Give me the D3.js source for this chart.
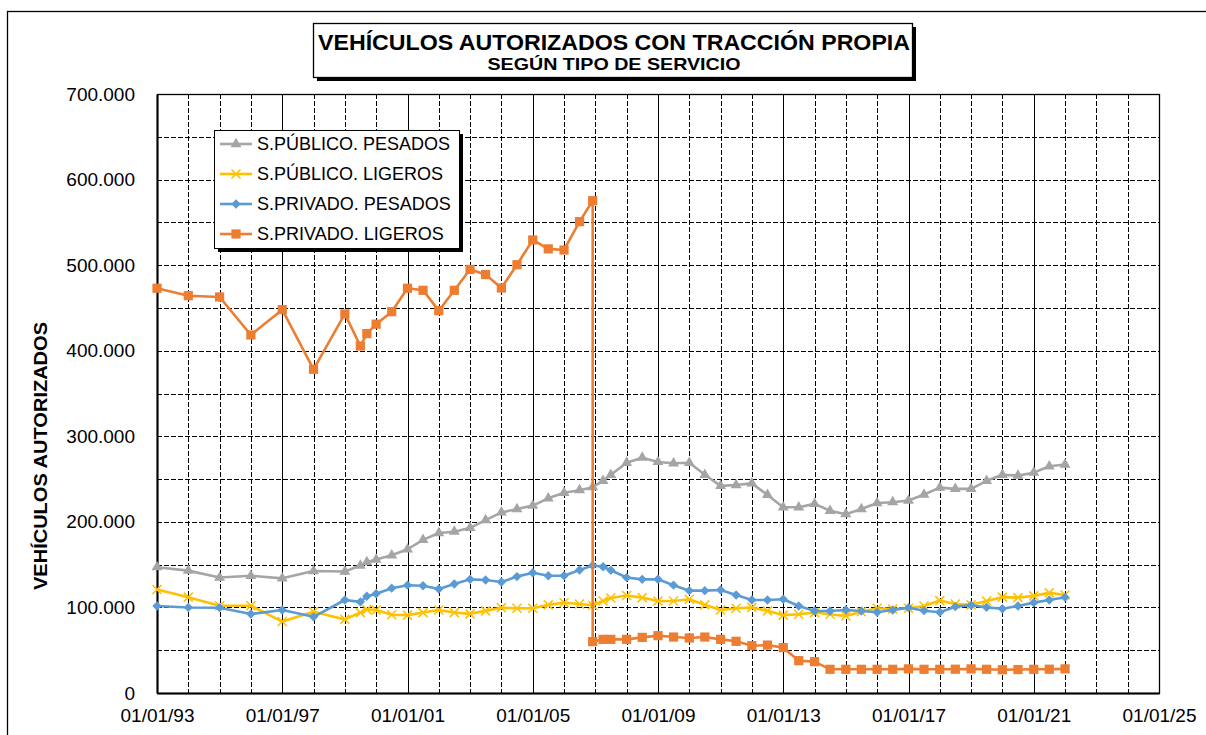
<!DOCTYPE html>
<html>
<head>
<meta charset="utf-8">
<script src="https://cdn.jsdelivr.net/npm/d3@7"></script>
<style>
  body { margin: 0; background: #fff; }
  svg { display: block; font-family: "Liberation Sans", Arial, sans-serif; }
</style>
</head>
<body>
<div id="wrapper"></div>
<script>
// fechas de cada observacion (anuales hasta 1999, luego semestrales)
const dates = [
  "1993-01-01", "1994-01-01", "1995-01-01", "1996-01-01", "1997-01-01", "1998-01-01", "1999-01-01",
  "1999-07-01", "1999-09-15",
  "2000-01-01", "2000-07-01", "2001-01-01", "2001-07-01", "2002-01-01", "2002-07-01", "2003-01-01",
  "2003-07-01", "2004-01-01", "2004-07-01", "2005-01-01", "2005-07-01", "2006-01-01", "2006-07-01",
  "2006-12-01", "2007-04-01", "2007-07-01",
  "2008-01-01", "2008-07-01", "2009-01-01", "2009-07-01", "2010-01-01", "2010-07-01", "2011-01-01",
  "2011-07-01", "2012-01-01", "2012-07-01", "2013-01-01", "2013-07-01", "2014-01-01", "2014-07-01",
  "2015-01-01", "2015-07-01", "2016-01-01", "2016-07-01", "2017-01-01", "2017-07-01", "2018-01-01",
  "2018-07-01", "2019-01-01", "2019-07-01", "2020-01-01", "2020-07-01", "2021-01-01", "2021-07-01",
  "2022-01-01"
]

// valores en miles de vehiculos
const publicoPesados = [
  147, 143, 135, 137, 134, 142.6, 142,
  149, 153,
  156, 161, 168, 179, 187, 188.5, 193, 202, 211, 215, 219, 227.5, 234, 237,
  240.5, 248, 255,
  269, 275, 270, 268.5, 269, 255, 242, 243, 245, 231.5, 217, 217, 221, 213, 209,
  215, 222, 223, 225, 232, 240, 238.5, 238.5, 248, 255, 254, 257.5, 265, 267
]
const publicoLigeros = [
  121, 112, 102, 102, 83.5, 95, 86,
  94, 97.5,
  97, 91.5, 91, 94, 97, 94, 92.5, 96, 99.7, 99, 99, 103, 105.5, 104,
  102.5, 107.5, 111,
  114, 111.5, 107.5, 107.5, 109.5, 103, 97, 99, 100, 96, 91, 92, 94, 92, 90,
  95, 99, 98, 99, 101.7, 108, 104, 103, 107.5, 112, 111.5, 113.5, 117, 114.5
]
const privadoPesados = [
  101.7, 100, 99.7, 92.3, 97, 89, 108.7,
  106.5, 113,
  116, 122.5, 126, 125.4, 121.5, 127.4, 132.8, 132, 129.7, 136, 140.6, 137, 137, 143.7,
  149, 147.5, 143.5,
  135, 132.8, 133, 126, 119.6, 119.6, 120.4, 114.5, 108.7, 108.7, 109.5, 101.7, 95.8, 95.8, 97,
  95.8, 94.3, 97, 99.7, 96.2, 94.3, 100.9, 102.5, 100.1, 98.5, 101.7, 105.6, 108.7, 111.8
]
const privadoLigeros = [
  473, 464.3, 462.8, 418.4, 448, 378.3, 443,
  405.5, 420,
  431, 445.6, 473, 470.6, 446.8, 470.6, 495, 489, 473.3, 500.5, 529.4, 519, 517.7, 550.8,
  575.3, 62.7, 62.7,
  62.7, 65, 67, 65.4, 64.3, 65.4, 62.7, 60.4, 55.3, 56, 53, 37.8, 36.6, 27.7, 27.7,
  27.7, 27.7, 27.7, 28.2, 27.7, 27.7, 27.8, 28.2, 27.7, 27.2, 27.4, 27.7, 27.8, 28.2
]
// cambio de criterio: el mismo dia la serie cae a este valor
const privadoLigerosCorte = { date: "2006-12-01", value: 60 }

const seriesNames = ["S.PÚBLICO. PESADOS", "S.PÚBLICO. LIGEROS", "S.PRIVADO. PESADOS", "S.PRIVADO. LIGEROS"]
const seriesColors = ["#A5A5A5", "#FFC000", "#5B9BD5", "#ED7D31"]
const yTicks = [0, 100000, 200000, 300000, 400000, 500000, 600000, 700000]
const xTickYears = [1993, 1997, 2001, 2005, 2009, 2013, 2017, 2021, 2025]
const titleLines = ["VEHÍCULOS AUTORIZADOS CON TRACCIÓN PROPIA", "SEGÚN TIPO DE SERVICIO"]
const yTitle = "VEHÍCULOS  AUTORIZADOS"

function drawChart() {
  const parse = d3.timeParse("%Y-%m-%d")

  let dimensions = {
    width: 1206,
    height: 735,
    plot: { left: 157, right: 1159, top: 94, bottom: 693 }
  }

  const svg = d3.select("#wrapper")
    .append("svg")
    .attr("width", dimensions.width)
    .attr("height", dimensions.height)

  svg.append("rect")
    .attr("width", dimensions.width)
    .attr("height", dimensions.height)
    .attr("fill", "#fff")

  // marco exterior del grafico (se sale de la captura)
  svg.append("rect")
    .attr("x", 7.5).attr("y", 11.5)
    .attr("width", 1240).attr("height", 780)
    .attr("fill", "none")
    .attr("stroke", "#000")
    .attr("stroke-width", 1.3)

  //! escalas
  const xScale = d3.scaleTime()
    .domain([new Date(1993, 0, 1), new Date(2025, 0, 1)])
    .range([dimensions.plot.left, dimensions.plot.right])
  const yScale = d3.scaleLinear()
    .domain([0, 700000])
    .range([dimensions.plot.bottom, dimensions.plot.top])

  const locale = d3.formatLocale({ decimal: ",", thousands: ".", grouping: [3], currency: ["", " €"] })
  const fmtY = locale.format(",")

  //! rejilla
  const grid = svg.append("g")
  grid.selectAll(".hgrid")
    .data(d3.range(50000, 700000, 50000))
    .join("line")
    .attr("x1", dimensions.plot.left).attr("x2", dimensions.plot.right)
    .attr("y1", d => Math.round(yScale(d)) + 0.5)
    .attr("y2", d => Math.round(yScale(d)) + 0.5)
    .attr("stroke", "#000")
    .attr("stroke-dasharray", "5,2")

  const years = d3.timeYear.range(new Date(1994, 0, 1), new Date(2025, 0, 1))
  grid.selectAll(".vgrid")
    .data(years)
    .join("line")
    .attr("x1", d => Math.round(xScale(d)) + 0.5)
    .attr("x2", d => Math.round(xScale(d)) + 0.5)
    .attr("y1", dimensions.plot.top).attr("y2", dimensions.plot.bottom)
    .attr("stroke", "#000")
    .attr("stroke-dasharray", d => (d.getFullYear() - 1993) % 4 === 0 ? null : "5,2")

  svg.append("rect")
    .attr("x", dimensions.plot.left + 0.5).attr("y", dimensions.plot.top + 0.5)
    .attr("width", dimensions.plot.right - dimensions.plot.left)
    .attr("height", dimensions.plot.bottom - dimensions.plot.top)
    .attr("fill", "none")
    .attr("stroke", "#000")
    .attr("stroke-width", 1.3)

  //! ejes
  const xAxis = d3.axisBottom(xScale)
    .tickValues(xTickYears.map(y => new Date(y, 0, 1)))
    .tickFormat(d3.timeFormat("%d/%m/%y"))
    .tickSize(0)
    .tickPadding(16)
  const xG = svg.append("g")
    .attr("transform", `translate(0, ${dimensions.plot.bottom})`)
    .call(xAxis)
  xG.select(".domain").attr("stroke", "#000").attr("stroke-width", 2)
  xG.selectAll("text").attr("font-size", 19).attr("fill", "#000")
    .attr("font-family", "Liberation Sans, Arial, sans-serif")

  const yAxis = d3.axisLeft(yScale)
    .tickValues(yTicks)
    .tickFormat(fmtY)
    .tickSize(0)
    .tickPadding(22)
  const yG = svg.append("g")
    .attr("transform", `translate(${dimensions.plot.left}, 0)`)
    .call(yAxis)
  yG.select(".domain").attr("stroke", "#000").attr("stroke-width", 2)
  yG.selectAll("text").attr("font-size", 19).attr("fill", "#000")
    .attr("font-family", "Liberation Sans, Arial, sans-serif")

  svg.append("text")
    .attr("transform", "translate(47, 456) rotate(-90)")
    .attr("text-anchor", "middle")
    .attr("font-size", 18)
    .attr("font-weight", "bold")
    .attr("textLength", 268)
    .attr("lengthAdjust", "spacingAndGlyphs")
    .text(yTitle)

  //! series
  const toPoints = vals => vals.map((v, i) => ({ date: parse(dates[i]), value: v * 1000 }))
  const seriesData = [
    toPoints(publicoPesados),
    toPoints(publicoLigeros),
    toPoints(privadoPesados),
    toPoints(privadoLigeros)
  ]
  // insertar la caida de la serie privada ligeros
  const cut = dates.indexOf(privadoLigerosCorte.date)
  seriesData[3].splice(cut + 1, 0, { date: parse(privadoLigerosCorte.date), value: privadoLigerosCorte.value * 1000 })

  const line = d3.line()
    .x(d => xScale(d.date))
    .y(d => yScale(d.value))

  const triangle = d3.symbol().type(d3.symbolTriangle).size(52)()
  const square = d3.symbol().type(d3.symbolSquare).size(85)()
  const diamond = d3.symbol().type(d3.symbolSquare).size(44)()
  const markerFor = [
    g => g.append("path").attr("d", triangle).attr("fill", seriesColors[0]),
    g => g.append("path").attr("d", "M-4.5,-4.5L4.5,4.5M-4.5,4.5L4.5,-4.5").attr("stroke", seriesColors[1]).attr("stroke-width", 1.6).attr("fill", "none"),
    g => g.append("path").attr("d", diamond).attr("transform", "rotate(45)").attr("fill", seriesColors[2]),
    g => g.append("path").attr("d", square).attr("fill", seriesColors[3])
  ]

  const seriesG = svg.append("g")
  seriesData.forEach((pts, k) => {
    const g = seriesG.append("g")
    g.append("path")
      .datum(pts)
      .attr("d", line)
      .attr("fill", "none")
      .attr("stroke", seriesColors[k])
      .attr("stroke-width", 2.6)
      .attr("stroke-linejoin", "round")
    g.selectAll(".mk")
      .data(pts)
      .join("g")
      .attr("transform", d => `translate(${xScale(d.date)}, ${yScale(d.value)})`)
      .each(function () { markerFor[k](d3.select(this)) })
  })

  //! titulo
  const tb = { x: 313, y: 23, w: 599, h: 54 }
  svg.append("rect")
    .attr("x", tb.x + 4).attr("y", tb.y + 4).attr("width", tb.w).attr("height", tb.h)
    .attr("fill", "#000")
  svg.append("rect")
    .attr("x", tb.x + 0.5).attr("y", tb.y + 0.5).attr("width", tb.w).attr("height", tb.h)
    .attr("fill", "#fff").attr("stroke", "#000").attr("stroke-width", 1.3)
  svg.append("text")
    .attr("x", 614).attr("y", 50)
    .attr("text-anchor", "middle")
    .attr("font-size", 22).attr("font-weight", "bold")
    .attr("textLength", 592).attr("lengthAdjust", "spacingAndGlyphs")
    .text(titleLines[0])
  svg.append("text")
    .attr("x", 614).attr("y", 70)
    .attr("text-anchor", "middle")
    .attr("font-size", 17).attr("font-weight", "bold")
    .attr("textLength", 253).attr("lengthAdjust", "spacingAndGlyphs")
    .text(titleLines[1])

  //! leyenda
  const lb = { x: 214, y: 130, w: 245, h: 118 }
  svg.append("rect")
    .attr("x", lb.x + 4).attr("y", lb.y + 4).attr("width", lb.w).attr("height", lb.h)
    .attr("fill", "#000")
  svg.append("rect")
    .attr("x", lb.x + 0.5).attr("y", lb.y + 0.5).attr("width", lb.w).attr("height", lb.h)
    .attr("fill", "#fff").attr("stroke", "#000").attr("stroke-width", 1)
  const items = svg.append("g").selectAll("g")
    .data(seriesNames)
    .join("g")
    .attr("transform", (d, i) => `translate(220, ${144 + i * 30})`)
  items.append("line")
    .attr("x1", 0).attr("x2", 32)
    .attr("stroke", (d, i) => seriesColors[i])
    .attr("stroke-width", 2.6)
  items.each(function (d, i) {
    const m = d3.select(this).append("g").attr("transform", "translate(16, 0)")
    markerFor[i](m)
  })
  items.append("text")
    .attr("x", 37).attr("dy", "0.35em")
    .attr("font-size", 18)
    .text(d => d)
}

drawChart()
</script>
</body>
</html>
